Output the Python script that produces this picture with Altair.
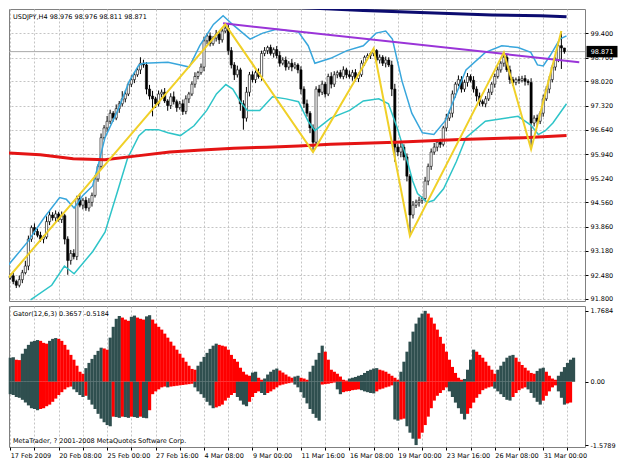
import json
import altair as alt
import pandas as pd

# ---------------- data ----------------
symbol = "USDJPY,H4"
time_labels = ["17 Feb 2009", "20 Feb 08:00", "25 Feb 00:00", "27 Feb 16:00", "4 Mar 08:00",
               "9 Mar 00:00", "11 Mar 16:00", "16 Mar 08:00", "19 Mar 00:00", "23 Mar 16:00",
               "26 Mar 08:00", "31 Mar 00:00"]
bars_per_label = 16
price_ticks = [91.80, 92.48, 93.18, 93.86, 94.56, 95.24, 95.94, 96.64, 97.32, 98.02, 98.70, 99.40]
gator_ticks = [1.7684, 0.0, -1.5789]
gator_tick_labels = ["1.7684", "0.00", "-1.5789"]

first_open = 92.40
close = [
    92.46, 92.30, 92.19, 92.35, 92.55, 92.74, 93.51, 93.84, 93.73, 93.62,
    93.51, 93.57, 94.01, 94.20, 94.12, 94.23, 94.07, 94.18, 93.51, 92.90,
    93.10, 93.01, 94.67, 94.48, 94.62, 94.40, 94.56, 94.76, 95.23, 95.59,
    96.41, 96.69, 96.88, 97.11, 96.97, 97.24, 97.38, 97.52, 97.66, 97.94,
    98.07, 98.21, 98.35, 98.54, 98.49, 97.80, 97.60, 97.52, 97.38, 97.66,
    97.71, 97.46, 97.33, 97.58, 97.44, 97.27, 97.38, 97.16, 97.52, 97.66,
    97.94, 98.16, 98.27, 98.43, 99.18, 99.32, 99.10, 99.26, 99.37, 99.21,
    99.46, 99.54, 98.90, 98.49, 98.21, 98.35, 97.38, 96.97, 97.71, 98.21,
    98.07, 98.27, 98.16, 98.82, 98.90, 98.99, 98.82, 98.93, 98.76, 98.54,
    98.63, 98.43, 98.54, 98.43, 98.49, 98.35, 97.80, 97.38, 97.11, 96.69,
    96.28, 97.80, 97.71, 97.94, 97.66, 98.16, 97.94, 98.21, 98.27, 98.16,
    98.35, 98.21, 98.16, 98.27, 98.10, 98.21, 98.54, 98.71, 98.76, 98.82,
    98.90, 98.63, 98.71, 98.54, 98.63, 98.49, 97.80, 96.14, 96.00, 96.14,
    95.86, 95.31, 94.20, 94.48, 94.56, 94.62, 94.67, 95.17, 95.59, 96.00,
    96.14, 96.28, 96.22, 96.69, 96.97, 97.11, 97.66, 97.94, 98.07, 97.80,
    97.99, 98.16, 98.05, 97.80, 97.60, 97.44, 97.38, 97.52, 97.71, 97.94,
    98.16, 98.35, 98.54, 98.71, 98.35, 98.07, 97.99, 98.07, 98.05, 98.10,
    98.02, 97.99, 96.83, 96.97, 96.88, 97.11, 97.52, 97.80, 98.07, 98.43,
    98.63, 99.04, 98.976, 98.871,
]
upper_wick = [
    .06, .10, .05, .12, .08, .15, .10, .06, .12, .08,
    .10, .05, .15, .12, .08, .10, .06, .12, .05, .08,
    .10, .12, .08, .15, .06, .10, .12, .08, .10, .06,
    .12, .08, .15, .10, .06, .12, .08, .22, .10, .06,
    .12, .08, .06, .17, .10, .08, .12, .15, .06, .10,
    .08, .12, .05, .10, .15, .06, .08, .12, .10, .06,
    .08, .12, .05, .10, .12, .08, .10, .06, .12, .08,
    .06, .11, .15, .10, .08, .12, .06, .10, .15, .08,
    .10, .06, .12, .08, .10, .05, .08, .06, .10, .12,
    .08, .10, .06, .12, .08, .05, .10, .08, .12, .06,
    .10, .08, .12, .10, .06, .08, .12, .10, .06, .08,
    .10, .06, .12, .08, .10, .06, .08, .05, .06, .04,
    .06, .04, .08, .06, .10, .08, .12, .15, .10, .12,
    .08, .10, .06, .12, .08, .10, .06, .12, .08, .10,
    .12, .08, .10, .06, .12, .08, .10, .06, .12, .10,
    .08, .10, .06, .12, .08, .10, .06, .08, .10, .06,
    .08, .10, .06, .14, .10, .12, .08, .06, .10, .08,
    .10, .06, .12, .08, .10, .06, .12, .08, .10, .06,
    .08, .10, .42, .00,
]
lower_wick = [
    .05, .08, .08, .06, .10, .05, .12, .08, .10, .06,
    .08, .12, .06, .10, .08, .12, .06, .10, .15, .41,
    .12, .08, .10, .06, .12, .08, .10, .12, .06, .08,
    .10, .06, .12, .08, .10, .06, .12, .08, .10, .06,
    .08, .10, .06, .12, .08, .15, .10, .50, .12, .08,
    .10, .06, .15, .10, .08, .12, .06, .10, .08, .12,
    .06, .10, .08, .06, .12, .10, .08, .06, .10, .12,
    .08, .06, .12, .10, .15, .08, .20, .33, .10, .12,
    .08, .10, .06, .12, .08, .10, .06, .12, .08, .10,
    .06, .10, .08, .12, .06, .10, .15, .12, .10, .15,
    .28, .10, .12, .08, .10, .06, .12, .08, .10, .06,
    .08, .10, .06, .12, .08, .10, .06, .08, .06, .10,
    .08, .06, .10, .08, .12, .06, .20, .42, .12, .15,
    .10, .15, .60, .10, .08, .12, .10, .08, .12, .10,
    .08, .12, .10, .06, .10, .08, .12, .10, .06, .10,
    .08, .12, .06, .10, .15, .12, .08, .10, .06, .08,
    .10, .06, .08, .10, .06, .12, .10, .08, .10, .06,
    .12, .08, .75, .10, .12, .08, .10, .06, .12, .08,
    .10, .06, .60, .06,
]

band_upper_i = [-0.6, 5.75, 11.2, 16.3, 18.5, 21.1, 24.0, 27.2, 29.1, 31.3, 35.5, 39.3, 42.5, 44.1,
                52.1, 56.2, 59.1, 62.6, 67.1, 70.3, 73.8, 79.2, 83.4, 87.9, 95.2, 98.4, 100.6, 105.8,
                111.2, 116.6, 120.8, 124.0, 126.2, 129.4, 132.6, 136.1, 139.9, 143.8, 147.0, 150.5,
                156.9, 162.3, 167.7, 171.9, 174.1, 176.0, 178.3, 181.5, 183.7]
band_upper_p = [92.77, 93.43, 94.12, 94.70, 94.65, 94.40, 94.76, 95.03, 95.64, 96.41, 97.19, 98.02,
                98.49, 98.54, 98.57, 98.49, 98.43, 99.04, 99.65, 99.90, 99.62, 99.23, 99.40, 99.51,
                99.43, 99.04, 98.54, 98.68, 98.90, 99.04, 99.40, 99.46, 99.23, 98.02, 97.11, 96.55,
                96.50, 96.91, 97.60, 98.35, 98.85, 99.04, 98.99, 98.85, 98.49, 98.46, 98.76, 99.23, 99.32]
band_lower_i = [6.7, 13.7, 17.9, 21.1, 27.2, 31.3, 35.5, 38.7, 42.5, 44.7, 48.9, 52.1, 56.2, 60.7,
                64.9, 68.1, 71.2, 73.5, 76.0, 78.3, 82.4, 86.6, 91.1, 95.2, 98.4, 100.6, 105.8, 112.1,
                116.6, 121.7, 124.9, 127.8, 131.0, 132.9, 134.5, 137.7, 139.9, 143.1, 147.3, 150.5,
                156.9, 167.7, 171.9, 174.4, 176.7, 179.2, 183.7]
band_lower_p = [91.77, 92.19, 92.74, 92.52, 93.15, 93.71, 94.89, 95.81, 96.47, 96.64, 96.64, 96.55,
                96.47, 96.75, 97.19, 97.66, 97.93, 97.80, 97.44, 97.19, 97.19, 97.58, 97.52, 97.44,
                96.88, 96.61, 96.97, 97.19, 97.46, 97.52, 97.38, 96.69, 95.78, 95.17, 94.81, 94.56,
                94.62, 94.95, 95.72, 96.41, 96.88, 97.02, 96.77, 96.50, 96.61, 96.83, 97.38]
ma_i = [-0.6, 9.9, 20.8, 31.3, 41.9, 52.7, 63.3, 73.8, 84.7, 95.2, 105.8, 127.2, 148.6, 169.6, 183.7]
ma_p = [95.97, 95.92, 95.81, 95.78, 95.89, 96.00, 96.06, 96.11, 96.14, 96.17, 96.22, 96.28, 96.36, 96.41, 96.47]
navy_i = [95.2, 116.6, 137.7, 159.1, 175.1, 183.7]
navy_p = [100.13, 100.05, 99.98, 99.92, 99.90, 99.87]
trend_i = [70.3, 187.9]
trend_p = [99.68, 98.57]
zigzag_i = [-0.6, 71, 100, 120, 132, 163, 172, 182]
zigzag_p = [92.41, 99.65, 96.00, 98.96, 93.60, 98.85, 96.08, 99.46]

gator_up = [
    0.60, 0.61, 0.55, 0.54, 0.70, 0.82, 0.92, 1.00, 1.02, 1.04,
    1.02, 0.97, 0.95, 1.02, 1.07, 1.09, 1.07, 1.02, 0.92, 0.80,
    0.67, 0.55, 0.40, 0.25, 0.20, 0.34, 0.47, 0.57, 0.67, 0.77,
    0.85, 0.83, 0.80, 1.10, 1.37, 1.57, 1.64, 1.60, 1.55, 1.52,
    1.62, 1.65, 1.60, 1.57, 1.55, 1.63, 1.66, 1.55, 1.45, 1.37,
    1.30, 1.20, 1.10, 1.00, 0.90, 0.80, 0.70, 0.60, 0.50, 0.40,
    0.32, 0.30, 0.40, 0.50, 0.62, 0.72, 0.82, 0.90, 0.95, 0.92,
    0.90, 0.88, 0.80, 0.67, 0.57, 0.50, 0.35, 0.25, 0.18, 0.15,
    0.23, 0.25, 0.10, 0.05, 0.08, 0.18, 0.25, 0.30, 0.33, 0.28,
    0.23, 0.18, 0.13, 0.10, 0.13, 0.15, 0.10, 0.08, 0.05, 0.25,
    0.40, 0.55, 0.72, 0.90, 0.75, 0.55, 0.30, 0.25, 0.20, 0.13,
    0.05, 0.03, 0.08, 0.10, 0.12, 0.15, 0.17, 0.22, 0.27, 0.30,
    0.33, 0.34, 0.30, 0.28, 0.25, 0.20, 0.15, 0.10, 0.05, 0.25,
    0.50, 0.75, 1.00, 1.25, 1.45, 1.60, 1.70, 1.7684, 1.70, 1.60,
    1.45, 1.30, 1.12, 0.95, 0.75, 0.55, 0.37, 0.22, 0.10, 0.05,
    0.07, 0.30, 0.55, 0.80, 0.75, 0.67, 0.60, 0.50, 0.40, 0.30,
    0.20, 0.30, 0.40, 0.50, 0.60, 0.65, 0.67, 0.60, 0.50, 0.42,
    0.35, 0.28, 0.22, 0.20, 0.27, 0.33, 0.35, 0.25, 0.15, 0.08,
    0.05, 0.15, 0.25, 0.3657, 0.47, 0.55, 0.60,
]
gator_down = [
    -0.31, -0.33, -0.38, -0.40, -0.45, -0.52, -0.59, -0.66, -0.68, -0.71,
    -0.68, -0.66, -0.61, -0.57, -0.50, -0.42, -0.33, -0.26, -0.19, -0.14,
    -0.12, -0.19, -0.26, -0.33, -0.38, -0.35, -0.45, -0.57, -0.68, -0.80,
    -0.92, -1.01, -1.08, -1.11, -0.87, -0.88, -0.90, -0.87, -0.88, -0.90,
    -0.87, -0.88, -0.90, -0.87, -0.90, -0.91, -0.71, -0.31, -0.24, -0.19,
    -0.14, -0.12, -0.14, -0.12, -0.11, -0.10, -0.09, -0.08, -0.07, -0.06,
    -0.05, -0.14, -0.24, -0.31, -0.40, -0.50, -0.59, -0.66, -0.64, -0.61,
    -0.57, -0.47, -0.40, -0.33, -0.28, -0.38, -0.47, -0.57, -0.61, -0.50,
    -0.38, -0.28, -0.24, -0.28, -0.33, -0.28, -0.24, -0.19, -0.14, -0.09,
    -0.07, -0.05, -0.035, -0.02, -0.07, -0.14, -0.26, -0.40, -0.54, -0.68,
    -0.80, -0.90, -0.97, -0.07, -0.06, -0.05, -0.035, -0.02, -0.19, -0.31,
    -0.26, -0.24, -0.23, -0.21, -0.20, -0.19, -0.21, -0.24, -0.26, -0.28,
    -0.29, -0.24, -0.19, -0.17, -0.14, -0.12, -0.09, -0.94, -0.97, -0.94,
    -0.92, -1.11, -1.27, -1.42, -1.5789, -1.42, -1.27, -1.08, -0.87, -0.66,
    -0.47, -0.35, -0.28, -0.21, -0.14, -0.24, -0.38, -0.52, -0.66, -0.80,
    -0.94, -0.80, -0.66, -0.52, -0.40, -0.31, -0.21, -0.17, -0.14, -0.12,
    -0.17, -0.24, -0.31, -0.38, -0.45, -0.47, -0.38, -0.28, -0.21, -0.17,
    -0.14, -0.19, -0.28, -0.40, -0.50, -0.57, -0.47, -0.35, -0.24, -0.14,
    -0.09, -0.24, -0.40, -0.57, -0.54, -0.5184, None,
]

# ---------------- tables ----------------
opens = [first_open] + close[:-1]
highs = [max(o, c) + w for o, c, w in zip(opens, close, upper_wick)]
lows = [min(o, c) - w for o, c, w in zip(opens, close, lower_wick)]
candles = pd.DataFrame({"i": range(len(close)), "o": opens, "h": highs, "l": lows, "c": close})

DARK, RED = "#2f4f4f", "#ff0000"
cu = [DARK if k == 0 or gator_up[k] >= gator_up[k - 1] else RED for k in range(len(gator_up))]
cd = []
for k, v in enumerate(gator_down):
    if v is None:
        cd.append(None)
    elif k == 0 or abs(v) >= abs(gator_down[k - 1]):
        cd.append(DARK)
    else:
        cd.append(RED)
gup = pd.DataFrame({"i": range(len(gator_up)), "v": gator_up, "col": cu})
gdn = pd.DataFrame({"i": range(len(gator_down)), "v": gator_down, "col": cd}).dropna()

bands = pd.concat([
    pd.DataFrame({"i": band_upper_i, "p": band_upper_p, "band": "upper"}),
    pd.DataFrame({"i": band_lower_i, "p": band_lower_p, "band": "lower"}),
])
ma = pd.DataFrame({"i": ma_i, "p": ma_p})
navy = pd.DataFrame({"i": navy_i, "p": navy_p})
trend = pd.DataFrame({"i": trend_i, "p": trend_p})
zig = pd.DataFrame({"i": zigzag_i, "p": zigzag_p})
last_close = close[-1]
bid = pd.DataFrame({"p": [last_close], "label": [f"{last_close:.3f}"]})
header = pd.DataFrame({"t": [f"{symbol}  {opens[-1]:.3f} {highs[-1]:.3f} {lows[-1]:.3f} {close[-1]:.3f}"]})
gheader = pd.DataFrame({"t": [f"Gator(12,6,3) {gator_up[183]:.4f} {gator_down[185]:.4f}"]})
footer = pd.DataFrame({"t": ["MetaTrader, ? 2001-2008 MetaQuotes Software Corp."]})

# ---------------- layout / style ----------------
W, H_MAIN, H_GATOR = 576, 292, 141
FONT, FS = "DejaVu Sans", 6.5
GRID = dict(grid=True, gridColor="#c4c4c4", gridDash=[2, 2], gridWidth=1)

xs = alt.Scale(domain=[-0.4, 189.8], nice=False, zero=False)
ys = alt.Scale(domain=[91.74, 100.09], nice=False, zero=False)
gs = alt.Scale(domain=[-1.627, 1.889], nice=False, zero=False)
grid_vals = list(range(0, 190, 8))
label_expr = (f"datum.value % {bars_per_label} == 0 ? "
              f"{json.dumps(time_labels)}[datum.value / {bars_per_label}] : ''")
glabel_expr = " : ".join(
    f"abs(datum.value - ({v})) < 0.001 ? '{t}'" for v, t in zip(gator_ticks, gator_tick_labels)
) + " : ''"

main_x_axis = alt.Axis(values=grid_vals, labels=False, ticks=False, domain=False, title=None, **GRID)
main_y_axis = alt.Axis(orient="right", values=price_ticks, format=".3f", title=None, domain=False,
                       tickSize=3, labelPadding=2, **GRID)
g_x_axis = alt.Axis(values=grid_vals, labelExpr=label_expr, labelAlign="left", labelPadding=2,
                    tickSize=3, domain=False, title=None, labelOverlap=False, **GRID)
g_y_axis = alt.Axis(orient="right", values=gator_ticks, labelExpr=glabel_expr, grid=False,
                    domain=False, tickSize=3, labelPadding=2, title=None)


def MX(f):
    return alt.X(f, type="quantitative", scale=xs, axis=main_x_axis)


def MY(f):
    return alt.Y(f, type="quantitative", scale=ys, axis=main_y_axis)


wicks = alt.Chart(candles).mark_rule(color="black", strokeWidth=1).encode(
    x=MX("i"), y=MY("l"), y2="h")
bodies = alt.Chart(candles).transform_calculate(
    xl="datum.i - 0.36", xr="datum.i + 0.36").mark_rect(stroke="black", strokeWidth=0.6).encode(
    x=MX("xl"), x2="xr", y=MY("o"), y2="c",
    fill=alt.condition("datum.c >= datum.o", alt.value("white"), alt.value("black")))
band_lines = alt.Chart(bands).mark_line(strokeWidth=1.5, clip=True).encode(
    x=MX("i"), y=MY("p"),
    color=alt.Color("band:N", scale=alt.Scale(domain=["upper", "lower"], range=["#38a6dc", "#2ec4c8"]),
                    legend=None))
ma_line = alt.Chart(ma).mark_line(color="#e41414", strokeWidth=3, clip=True).encode(x=MX("i"), y=MY("p"))
navy_line = alt.Chart(navy).mark_line(color="#0c0c70", strokeWidth=3, clip=True).encode(x=MX("i"), y=MY("p"))
trend_line = alt.Chart(trend).mark_line(color="#9a34d8", strokeWidth=2, clip=True).encode(x=MX("i"), y=MY("p"))
zig_line = alt.Chart(zig).mark_line(color="#f0d028", strokeWidth=2, clip=True).encode(x=MX("i"), y=MY("p"))
bid_line = alt.Chart(bid).mark_rule(color="#a8a8a8", strokeWidth=1).encode(y=MY("p"))
bid_box = alt.Chart(bid).mark_point(
    shape="M-1,-0.37L1,-0.37L1,0.37L-1,0.37Z", size=31 * 31, filled=True, color="black",
    opacity=1, strokeWidth=0).encode(x=alt.value(W + 17), y=MY("p"))
bid_text = alt.Chart(bid).mark_text(color="white", font=FONT, fontSize=FS, align="center",
                                    baseline="middle").encode(
    x=alt.value(W + 17), y=MY("p"), text="label:N")
head_text = alt.Chart(header).mark_text(font=FONT, fontSize=FS, align="left", baseline="middle",
                                        color="black").encode(
    x=alt.value(4), y=alt.value(8), text="t:N")

main = alt.layer(bid_line, wicks, bodies, band_lines, ma_line, navy_line, trend_line, zig_line,
                 bid_box, bid_text, head_text).properties(width=W, height=H_MAIN)

gx = alt.X("xl", type="quantitative", scale=xs, axis=g_x_axis)
gy_up = alt.Y("v", type="quantitative", scale=gs, axis=g_y_axis)
g_up = alt.Chart(gup).transform_calculate(xl="datum.i - 0.5", xr="datum.i + 0.55").mark_rect(
    strokeWidth=0).encode(x=gx, x2="xr", y=gy_up, y2=alt.datum(0), color=alt.Color("col:N", scale=None))
g_dn = alt.Chart(gdn).transform_calculate(xl="datum.i - 0.5", xr="datum.i + 0.55").mark_rect(
    strokeWidth=0).encode(x=gx, x2="xr", y=gy_up, y2=alt.datum(0), color=alt.Color("col:N", scale=None))
g_head = alt.Chart(gheader).mark_text(font=FONT, fontSize=FS, align="left", baseline="middle",
                                      color="black").encode(x=alt.value(4), y=alt.value(8), text="t:N")
g_foot = alt.Chart(footer).mark_text(font=FONT, fontSize=FS, align="left", baseline="middle",
                                     color="black").encode(x=alt.value(4), y=alt.value(H_GATOR - 6), text="t:N")
gator = alt.layer(g_up, g_dn, g_head, g_foot).properties(width=W, height=H_GATOR)

chart = alt.vconcat(main, gator, spacing=2).properties(
    padding={"left": 0, "top": 0, "right": 0, "bottom": 0},
    background="white",
).configure_view(stroke="#808080", strokeWidth=1).configure_axis(
    labelFont=FONT, labelFontSize=FS, labelColor="black", tickColor="black")

chart.save("out.html", embed_options={"renderer": "svg", "actions": False})
